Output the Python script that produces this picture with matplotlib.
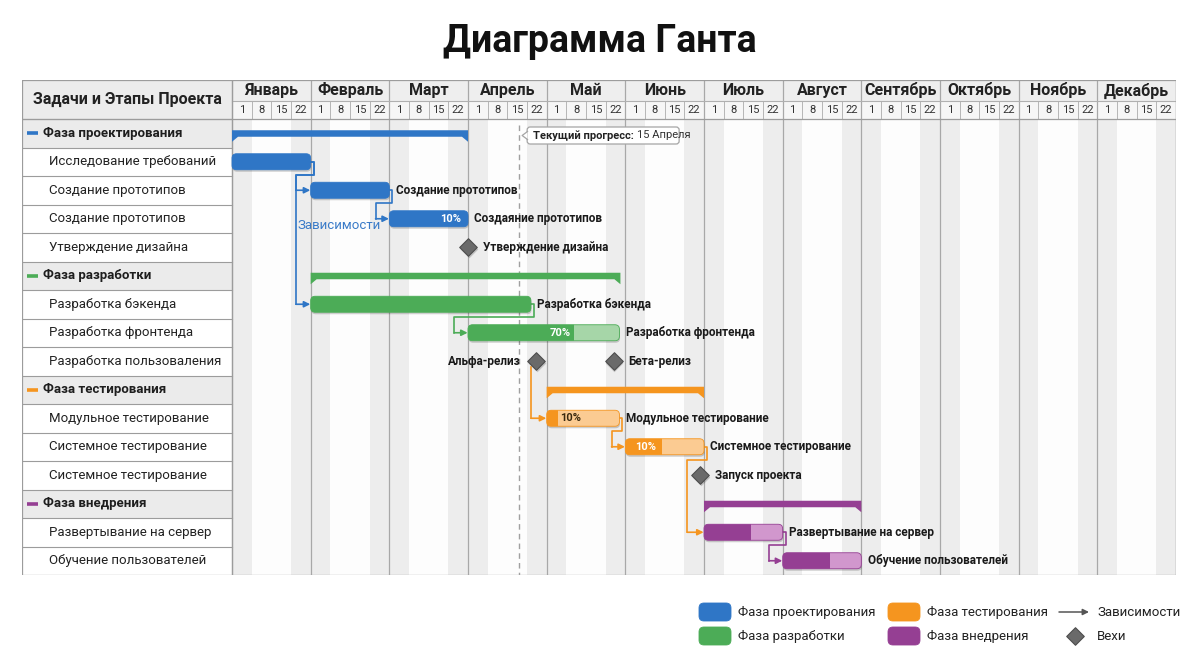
import matplotlib.pyplot as plt
import matplotlib.patches as patches
import numpy as np

plt.rcParams['font.family'] = ['Roboto', 'DejaVu Sans']

# Данные
months = ['Январь', 'Февраль', 'Март', 'Апрель', 'Май', 'Июнь', 'Июль', 'Август',
          'Сентябрь', 'Октябрь', 'Ноябрь', 'Декабрь']
week_days = ['1', '8', '15', '22']

row_names = ['Фаза проектирования', 'Исследование требований', 'Создание прототипов',
             'Создание прототипов', 'Утверждение дизайна',
             'Фаза разработки', 'Разработка бэкенда', 'Разработка фронтенда',
             'Разработка пользоваления',
             'Фаза тестирования', 'Модульное тестирование', 'Системное тестирование',
             'Системное тестирование',
             'Фаза внедрения', 'Развертывание на сервер', 'Обучение пользователей']

phase_names = ['Фаза проектирования', 'Фаза разработки', 'Фаза тестирования', 'Фаза внедрения']
phase_rows = [0, 5, 9, 13]
phase_start = [0, 4, 16, 24]
phase_end = [12, 19.75, 24, 32]

# задачи (x в неделях от 1 января)
task_rows = [1, 2, 3, 6, 7, 10, 11, 14, 15]
task_phase = [0, 0, 0, 1, 1, 2, 2, 3, 3]
task_start = [0, 4, 8, 4, 12, 16, 20, 24, 28]
task_end = [4, 8, 12, 15.2, 19.7, 19.7, 24, 28, 32]
task_fill = [1, 1, 1, 1, 0.7, 0.15, 0.47, 0.6, 0.6]
task_pct = ['', '', '10%', '', '70%', '10%', '10%', '', '']
pct_place = ['', '', 'end', '', 'fill', 'after', 'mid', '', '']
task_labels = ['', 'Создание прототипов', 'Создаяние прототипов', 'Разработка бэкенда',
               'Разработка фронтенда', 'Модульное тестирование', 'Системное тестирование',
               'Развертывание на сервер', 'Обучение пользователей']

ms_names = ['Утверждение дизайна', 'Альфа-релиз', 'Бета-релиз', 'Запуск проекта']
ms_rows = [4, 8, 8, 12]
ms_x = [12, 15.45, 19.4, 23.8]
ms_side = ['right', 'left', 'right', 'right']

# зависимости: строка-источник, x источника, строка-цель, x цели, x поворота, фаза
dep_src_row = [1, 2, 1, 6, 8, 10, 11, 14]
dep_src_x = [4, 8, 4, 15.2, 15.2, 19.7, 24, 28]
dep_dst_row = [2, 3, 6, 7, 10, 11, 14, 15]
dep_dst_x = [4, 8, 4, 12, 16, 20, 24, 28]
dep_via_x = [3.25, 7.3, 3.25, 11.3, 15.2, 19.3, 23.15, 27.3]
dep_phase = [0, 0, 0, 1, 2, 2, 2, 3]

progress_x = 14.6
progress_bold = 'Текущий прогресс:'
progress_date = '15 Апреля'

phase_colors = ['#2f76c6', '#4cac57', '#f5951f', '#953f93']
phase_light = ['#8db6e4', '#a6d6a8', '#fbcb92', '#d197cd']

# Геометрия
PXW = 944 / 48      # пикселей на неделю
PXH = 28.5          # пикселей на строку
X0 = -210 / PXW
Y0 = -39 / PXH
YM = -18 / PXH      # граница строки месяцев и недель

fig = plt.figure(figsize=(12, 6.7), dpi=100)
fig.patch.set_facecolor('white')
ax = fig.add_axes([22 / 1200, 95 / 670, 1154 / 1200, 495 / 670])
ax.set_xlim(X0, 48)
ax.set_ylim(16, Y0)
ax.axis('off')

line_c = '#9c9c9c'


def rbox(x0, x1, yc, h_px, fc, z, r_px=4.5, ec='none', alpha=1.0, lw=0):
    h = h_px / PXH
    p = patches.FancyBboxPatch((x0, yc - h / 2), x1 - x0, h,
                               boxstyle='round,pad=0,rounding_size=%f' % (r_px / PXW),
                               mutation_aspect=PXW / PXH, fc=fc, ec=ec, lw=lw,
                               alpha=alpha, zorder=z)
    ax.add_patch(p)
    return p


# фон тела и полосы недель
ax.add_patch(patches.Rectangle((0, 0), 48, 16, fc='#fdfdfd', ec='none', zorder=0))
for m in range(12):
    for w in (0, 3):
        ax.add_patch(patches.Rectangle((4 * m + w, 0), 1, 16, fc='#ededed', ec='none', zorder=0.5))

# шапка
ax.add_patch(patches.Rectangle((X0, Y0), -X0, -Y0, fc='#ececec', ec='none', zorder=1))
ax.add_patch(patches.Rectangle((0, Y0), 48, YM - Y0, fc='#eeeeee', ec='none', zorder=1))
ax.add_patch(patches.Rectangle((0, YM), 48, -YM, fc='#f6f6f6', ec='none', zorder=1))
ax.text(X0 / 2, Y0 / 2, 'Задачи и Этапы Проекта', fontsize=11.5, fontweight='bold',
        color='#222222', ha='center', va='center', zorder=3)
for m, name in enumerate(months):
    ax.text(4 * m + 2, (Y0 + YM) / 2, name, fontsize=11.5, fontweight='bold', color='#222222',
            ha='center', va='center', zorder=3)
    for w, d in enumerate(week_days):
        ax.text(4 * m + w + 0.5, YM / 2, d, fontsize=8, color='#333333',
                ha='center', va='center', zorder=3)
        if w > 0:
            ax.plot([4 * m + w, 4 * m + w], [YM, 0], color='#b5b5b5', lw=0.7, zorder=2)
for m in range(13):
    ax.plot([4 * m, 4 * m], [Y0, 16], color='#a8a8a8', lw=0.9, zorder=2)

# левая таблица
for i, name in enumerate(row_names):
    if i in phase_rows:
        k = phase_rows.index(i)
        ax.add_patch(patches.Rectangle((X0, i), -X0, 1, fc='#ebebeb', ec='none', zorder=1))
        ax.plot([X0 + 5 / PXW, X0 + 16 / PXW], [i + 0.5, i + 0.5], color=phase_colors[k],
                lw=2.6, solid_capstyle='butt', zorder=3)
        ax.text(X0 + 21 / PXW, i + 0.5, name, fontsize=9.5, fontweight='bold', color='#1e1e1e',
                ha='left', va='center', zorder=3)
    else:
        ax.add_patch(patches.Rectangle((X0, i), -X0, 1, fc='white', ec='none', zorder=1))
        ax.text(X0 + 27 / PXW, i + 0.5, name, fontsize=9.5, color='#222222',
                ha='left', va='center', zorder=3)
    ax.plot([X0, 0], [i, i], color=line_c, lw=0.8, zorder=2)

# рамки
for yy in (Y0, 0, 16):
    ax.plot([X0, 48], [yy, yy], color=line_c, lw=0.9, zorder=2)
ax.plot([0, 48], [YM, YM], color='#b0b0b0', lw=0.8, zorder=2)
for xx in (X0, 0, 48):
    ax.plot([xx, xx], [Y0, 16], color=line_c, lw=0.9, zorder=2)

# линия текущего прогресса
ax.plot([progress_x, progress_x], [0.2, 16], color='#a0a0a0', lw=1, ls=(0, (4, 3)), zorder=2.5)
bx0, bx1 = progress_x + 8 / PXW, progress_x + 160 / PXW
by0, by1 = 8 / PXH, 25 / PXH
box = patches.FancyBboxPatch((bx0, by0), bx1 - bx0, by1 - by0,
                             boxstyle='round,pad=0,rounding_size=%f' % (3 / PXW),
                             mutation_aspect=PXW / PXH, fc='white', ec='#a5a5a5', lw=0.9, zorder=6)
ax.add_patch(box)
ym = (by0 + by1) / 2
notch = [(bx0 + 0.02, ym - 4 / PXH), (bx0 - 5 / PXW, ym), (bx0 + 0.02, ym + 4 / PXH)]
ax.add_patch(patches.Polygon(notch, closed=True, fc='white', ec='none', zorder=6.5))
ax.plot([p[0] for p in notch], [p[1] for p in notch], color='#a5a5a5', lw=0.9, zorder=6.6)
t1 = ax.text(bx0 + 6 / PXW, ym, progress_bold, fontsize=8, fontweight='bold', color='#222222',
             ha='left', va='center', zorder=7)
renderer = fig.canvas.get_renderer()
bb = t1.get_window_extent(renderer=renderer)
xend = ax.transData.inverted().transform((bb.x1, 0))[0]
ax.text(xend + 3 / PXW, ym, progress_date, fontsize=8, color='#333333',
        ha='left', va='center', zorder=7)

# сводные полосы фаз
for k in range(4):
    yc = phase_rows[k] + 0.5
    x0, x1 = phase_start[k], phase_end[k]
    top, bot, tip, tw = yc - 3 / PXH, yc + 3.5 / PXH, yc + 8.5 / PXH, 6 / PXW
    pts = [(x0, top), (x1, top), (x1, tip), (x1 - tw, bot), (x0 + tw, bot), (x0, tip)]
    ax.add_patch(patches.Polygon(pts, closed=True, fc=phase_colors[k], ec='none', zorder=4))

# зависимости
for i in range(len(dep_src_row)):
    c = phase_colors[dep_phase[i]]
    ys = dep_src_row[i] + 0.5
    yd = dep_dst_row[i] + 0.5
    xs = dep_src_x[i]
    xv = dep_via_x[i]
    stub = xs + 0.15 if xs > xv + 0.1 else xs
    ymid = ys + 0.45
    if dep_phase[i] == 2 and xs == xv:
        xs_pts = [xv, xv]
        ys_pts = [ys + 0.2, yd]
    else:
        xs_pts = [xs, stub, stub, xv, xv]
        ys_pts = [ys, ys, ymid, ymid, yd]
    ax.plot(xs_pts, ys_pts, color=c, lw=1.2, solid_joinstyle='round', zorder=3)
    ax.annotate('', xy=(dep_dst_x[i] - 0.02, yd), xytext=(xv, yd),
                arrowprops=dict(arrowstyle='-|>', color=c, lw=1.2, mutation_scale=9,
                                shrinkA=0, shrinkB=0), zorder=3)
ax.text(3.35, 3.72, 'Зависимости', fontsize=9.5, color='#3a7bc8', ha='left', va='center', zorder=3)

# задачи
for i in range(len(task_rows)):
    k = task_phase[i]
    yc = task_rows[i] + 0.5
    x0, x1 = task_start[i], task_end[i]
    rbox(x0 + 0.03, x1 + 0.03, yc + 2 / PXH, 16, '#000000', 3.5, alpha=0.18)
    fc = phase_colors[k] if task_fill[i] >= 1 else phase_light[k]
    base = rbox(x0, x1, yc, 16, fc, 4, ec=phase_colors[k], lw=0.6)
    xf = x0 + (x1 - x0) * task_fill[i]
    if task_fill[i] < 1:
        dark = patches.Rectangle((x0, yc - 1), xf - x0, 2, fc=phase_colors[k], ec='none', zorder=4.2)
        ax.add_patch(dark)
        dark.set_clip_path(base)
    if task_pct[i]:
        if pct_place[i] == 'end':
            ax.text(x1 - 0.35, yc, task_pct[i], fontsize=8, fontweight='bold', color='white',
                    ha='right', va='center', zorder=5)
        elif pct_place[i] == 'fill':
            ax.text(xf - 0.15, yc, task_pct[i], fontsize=8, fontweight='bold', color='white',
                    ha='right', va='center', zorder=5)
        elif pct_place[i] == 'after':
            ax.text(xf + 0.12, yc, task_pct[i], fontsize=8, fontweight='bold', color='#3a2a10',
                    ha='left', va='center', zorder=5)
        else:
            ax.text((x0 + xf) / 2 + 0.1, yc, task_pct[i], fontsize=8, fontweight='bold',
                    color='white', ha='center', va='center', zorder=5)
    if task_labels[i]:
        ax.text(x1 + 0.33, yc, task_labels[i], fontsize=8.5, fontweight='bold', color='#1a1a1a',
                ha='left', va='center', zorder=5)

# вехи
for i in range(len(ms_names)):
    yc = ms_rows[i] + 0.5
    ax.scatter([ms_x[i] + 0.04], [yc + 1.5 / PXH], marker='D', s=80, c='#000000', alpha=0.18,
               linewidths=0, zorder=5)
    ax.scatter([ms_x[i]], [yc], marker='D', s=80, c='#6a6a6a', edgecolors='#4e4e4e',
               linewidths=0.8, zorder=6)
    if ms_side[i] == 'right':
        ax.text(ms_x[i] + 0.76, yc, ms_names[i], fontsize=8.5, fontweight='bold', color='#1a1a1a',
                ha='left', va='center', zorder=6)
    else:
        ax.text(ms_x[i] - 0.76, yc, ms_names[i], fontsize=8.5, fontweight='bold', color='#1a1a1a',
                ha='right', va='center', zorder=6)

# заголовок и легенда
ov = fig.add_axes([0, 0, 1, 1], facecolor='none')
ov.set_xlim(0, 1200)
ov.set_ylim(670, 0)
ov.axis('off')
ov.text(600, 42, 'Диаграмма Ганта', fontsize=27, fontweight='bold', color='#111111',
        ha='center', va='center')

leg_x = [699, 699, 888, 888]
leg_y = [612, 636, 612, 636]
leg_phase = [0, 1, 2, 3]
for j in range(4):
    k = leg_phase[j]
    ov.add_patch(patches.FancyBboxPatch((leg_x[j], leg_y[j] - 9), 32, 18,
                                        boxstyle='round,pad=0,rounding_size=5',
                                        fc=phase_colors[k], ec=phase_colors[k], lw=0.6))
    ov.text(leg_x[j] + 39, leg_y[j], phase_names[k], fontsize=9.5, color='#222222',
            ha='left', va='center')
ov.annotate('', xy=(1089, 612), xytext=(1059, 612),
            arrowprops=dict(arrowstyle='-|>', color='#555555', lw=1.1, mutation_scale=9,
                            shrinkA=0, shrinkB=0))
ov.text(1097, 612, 'Зависимости', fontsize=9.5, color='#222222', ha='left', va='center')
ov.scatter([1075], [636], marker='D', s=80, c='#6a6a6a', edgecolors='#4e4e4e', linewidths=0.8)
ov.text(1097, 636, 'Вехи', fontsize=9.5, color='#222222', ha='left', va='center')

fig.savefig('out.png', dpi=100)
